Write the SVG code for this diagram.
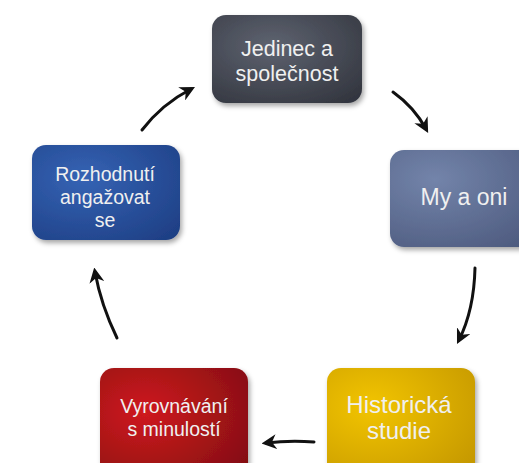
<svg xmlns="http://www.w3.org/2000/svg" width="519" height="463" viewBox="0 0 519 463">
<defs>
<radialGradient id="gGray" cx="0.4" cy="0.35" r="0.8"><stop offset="0" stop-color="#5e6370"/><stop offset="1" stop-color="#33363f"/></radialGradient>
<radialGradient id="gSlate" cx="0.3" cy="0.3" r="0.9"><stop offset="0" stop-color="#7384aa"/><stop offset="1" stop-color="#4d5a7e"/></radialGradient>
<radialGradient id="gGold" cx="0.3" cy="0.35" r="0.9"><stop offset="0" stop-color="#f2c400"/><stop offset="1" stop-color="#c39600"/></radialGradient>
<radialGradient id="gRed" cx="0.3" cy="0.4" r="0.9"><stop offset="0" stop-color="#cf1a1e"/><stop offset="1" stop-color="#7e0d10"/></radialGradient>
<radialGradient id="gBlue" cx="0.35" cy="0.35" r="0.9"><stop offset="0" stop-color="#3563b4"/><stop offset="1" stop-color="#1d3d82"/></radialGradient>
<filter id="sh" x="-10%" y="-10%" width="125%" height="130%"><feDropShadow dx="2" dy="3" stdDeviation="2.5" flood-color="#000" flood-opacity="0.35"/></filter>
<marker id="ah" viewBox="0 0 10 10" refX="7" refY="5" markerWidth="5" markerHeight="5" orient="auto"><path d="M0,0 L10,5 L0,10 L3,5 z" fill="#111"/></marker>
</defs>
<style>
.box{filter:url(#sh);}
.t{font-family:"Liberation Sans",Arial,sans-serif;fill:#f0f0f0;text-anchor:middle;}
.c{fill:none;stroke:#111;stroke-width:3;stroke-linecap:round;marker-end:url(#ah);}
</style>
<rect width="519" height="463" fill="#fff"/>
<g id="connectors">
<path class="c" d="M142,130 Q162,104 191,89"/>
<path class="c" d="M393,92 Q414,107 426,129"/>
<path class="c" d="M475,268 Q474,310 459,340"/>
<path class="c" d="M314,442 Q290,440 266,443"/>
<path class="c" d="M117,338 Q101,305 95,272"/>
</g>
<g id="n1">
<rect class="box" x="212" y="15" width="150" height="88" rx="14" fill="url(#gGray)"/>
<text class="t" font-size="21.5"><tspan x="287" y="56">Jedinec a</tspan><tspan x="287" y="81">společnost</tspan></text>
</g>
<g id="n2">
<rect class="box" x="390" y="150" width="150" height="97" rx="14" fill="url(#gSlate)"/>
<text class="t" font-size="23" x="464" y="205">My a oni</text>
</g>
<g id="n3">
<rect class="box" x="327" y="368" width="148" height="110" rx="14" fill="url(#gGold)"/>
<text class="t" font-size="24"><tspan x="399" y="413">Historická</tspan><tspan x="399" y="439">studie</tspan></text>
</g>
<g id="n4">
<rect class="box" x="100" y="368" width="148" height="110" rx="14" fill="url(#gRed)"/>
<text class="t" font-size="19.5"><tspan x="174" y="413">Vyrovnávání</tspan><tspan x="174" y="436">s minulostí</tspan></text>
</g>
<g id="n5">
<rect class="box" x="32" y="145" width="148" height="95" rx="14" fill="url(#gBlue)"/>
<text class="t" font-size="19.5"><tspan x="105" y="181">Rozhodnutí</tspan><tspan x="105" y="204">angažovat</tspan><tspan x="105" y="227">se</tspan></text>
</g>
</svg>
